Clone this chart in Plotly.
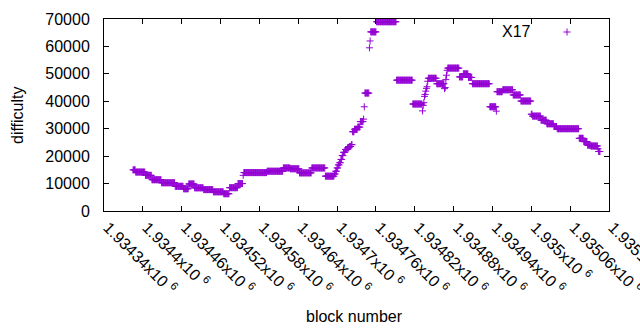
import plotly.graph_objects as go

# ---- data: runs of consecutive blocks sharing one difficulty value ----
run_start = [1934385, 1934389, 1934404, 1934414, 1934429, 1934450, 1934463, 1934471, 1934480, 1934494,
             1934509, 1934525, 1934534, 1934547, 1934555, 1934556, 1934592, 1934617, 1934628, 1934642,
             1934661, 1934682, 1934696, 1934698, 1934700, 1934702, 1934704, 1934706, 1934708, 1934710,
             1934713, 1934716, 1934719, 1934722, 1934724, 1934727, 1934732, 1934736, 1934741, 1934742,
             1934743, 1934750, 1934751, 1934752, 1934761, 1934792, 1934817, 1934832, 1934833, 1934834,
             1934835, 1934836, 1934837, 1934838, 1934839, 1934840, 1934841, 1934854, 1934866, 1934867,
             1934868, 1934869, 1934870, 1934871, 1934889, 1934895, 1934903, 1934909, 1934936, 1934946,
             1934947, 1934956, 1934972, 1934984, 1935000, 1935002, 1935015, 1935024, 1935035, 1935040,
             1935074, 1935081, 1935087, 1935092, 1935103, 1935104]
run_end = [1934388, 1934403, 1934413, 1934428, 1934449, 1934462, 1934470, 1934479, 1934493, 1934508,
           1934524, 1934533, 1934546, 1934554, 1934555, 1934591, 1934616, 1934627, 1934641, 1934660,
           1934681, 1934695, 1934697, 1934699, 1934701, 1934703, 1934705, 1934707, 1934709, 1934712,
           1934715, 1934718, 1934721, 1934723, 1934726, 1934731, 1934735, 1934740, 1934741, 1934742,
           1934749, 1934750, 1934751, 1934760, 1934791, 1934816, 1934831, 1934832, 1934833, 1934834,
           1934835, 1934836, 1934837, 1934838, 1934839, 1934840, 1934853, 1934865, 1934866, 1934867,
           1934868, 1934869, 1934870, 1934888, 1934894, 1934902, 1934908, 1934935, 1934945, 1934946,
           1934955, 1934971, 1934983, 1934999, 1935001, 1935014, 1935023, 1935034, 1935039, 1935073,
           1935080, 1935086, 1935091, 1935102, 1935103, 1935106]
run_diff = [15000, 14200, 13000, 11400, 10300, 9000, 8100, 9850, 8450, 7800,
            7000, 6300, 8500, 10000, 13000, 14000, 14500, 15700, 15400, 13900,
            15700, 12700, 13500, 14500, 15700, 16800, 17600, 18800, 20200, 21400,
            22400, 23000, 23500, 24200, 28900, 29800, 30600, 32600, 33500, 38000,
            43000, 59500, 62000, 65300, 69000, 47700, 39000, 36500, 38500, 39500,
            41800, 42500, 43700, 44700, 45300, 47300, 48400, 46400, 44600, 45000,
            47900, 49500, 51300, 52100, 48900, 50000, 48700, 46400, 38000, 36400,
            43500, 44200, 42300, 40100, 35300, 34600, 33100, 31800, 30800, 30000,
            26500, 25300, 24000, 23700, 22700, 21700]

x_tickvals = [1934340, 1934400, 1934460, 1934520, 1934580, 1934640, 1934700,
              1934760, 1934820, 1934880, 1934940, 1935000, 1935060, 1935120]
x_ticktext = ["1.93434x10 <sup>6</sup>", "1.9344x10 <sup>6</sup>", "1.93446x10 <sup>6</sup>",
              "1.93452x10 <sup>6</sup>", "1.93458x10 <sup>6</sup>", "1.93464x10 <sup>6</sup>",
              "1.9347x10 <sup>6</sup>", "1.93476x10 <sup>6</sup>", "1.93482x10 <sup>6</sup>",
              "1.93488x10 <sup>6</sup>", "1.93494x10 <sup>6</sup>", "1.935x10 <sup>6</sup>",
              "1.93506x10 <sup>6</sup>", "1.93512x10 <sup>6</sup>"]
y_tickvals = [0, 10000, 20000, 30000, 40000, 50000, 60000, 70000]
y_ticktext = ["0", "10000", "20000", "30000", "40000", "50000", "60000", "70000"]

series_name = "X17"

blocks, diffs = [], []
for s, e, d in zip(run_start, run_end, run_diff):
    for b in range(s, e + 1):
        blocks.append(b)
        diffs.append(d)

COLOR = "#9400D3"
FONT = "Liberation Sans, Arial, sans-serif"

fig = go.Figure()
fig.add_trace(go.Scatter(
    x=blocks, y=diffs, mode="markers", name=series_name, showlegend=False,
    marker=dict(symbol="cross-thin", size=5, color=COLOR,
                line=dict(color=COLOR, width=1)),
    cliponaxis=False,
))

L, R, T, B = 104, 31, 19, 119
W, H = 640, 330
pw, ph = W - L - R, H - T - B

def px(xp):
    return (xp - L) / pw

def py(yp):
    return (H - B - yp) / ph

fig.update_layout(
    width=W, height=H,
    margin=dict(l=L, r=R, t=T, b=B, autoexpand=False),
    paper_bgcolor="white", plot_bgcolor="white",
    font=dict(family=FONT, size=16, color="black"),
    xaxis=dict(range=[1934340, 1935120], tickmode="array", tickvals=x_tickvals,
               ticktext=x_ticktext, tickangle=45, ticks="inside", ticklen=5,
               tickcolor="black", showline=True, linecolor="black", linewidth=1,
               mirror="allticks", showgrid=False, zeroline=False, automargin=False,
               ticklabeloverflow="allow", ticklabelshift=4,
               tickfont=dict(family=FONT, size=16, color="black")),
    yaxis=dict(range=[0, 70000], tickmode="array", tickvals=y_tickvals,
               ticktext=y_ticktext, ticks="inside", ticklen=5, tickcolor="black",
               showline=True, linecolor="black", linewidth=1, mirror="allticks",
               showgrid=False, zeroline=False, automargin=False,
               ticklabelstandoff=10,
               tickfont=dict(family=FONT, size=16, color="black")),
    annotations=[
        dict(text="difficulty", xref="paper", yref="paper", x=px(17), y=py(115),
             showarrow=False, textangle=-90, xanchor="center", yanchor="middle",
             font=dict(family=FONT, size=16)),
        dict(text="block number", xref="paper", yref="paper", x=px(354), y=py(316),
             showarrow=False, xanchor="center", yanchor="middle",
             font=dict(family=FONT, size=16)),
        dict(text=series_name, xref="paper", yref="paper", x=px(533), y=py(31),
             showarrow=False, xanchor="right", yanchor="middle",
             font=dict(family=FONT, size=16)),
    ],
    shapes=[
        dict(type="line", xref="paper", yref="paper", xsizemode="pixel", ysizemode="pixel",
             xanchor=px(567), yanchor=py(32), x0=-3.5, x1=3.5, y0=0, y1=0,
             line=dict(color=COLOR, width=1)),
        dict(type="line", xref="paper", yref="paper", xsizemode="pixel", ysizemode="pixel",
             xanchor=px(567), yanchor=py(32), x0=0, x1=0, y0=-3.5, y1=3.5,
             line=dict(color=COLOR, width=1)),
    ],
)

fig.write_html("out.html", config={"displayModeBar": False},
               post_script="document.body.style.margin='0px';document.body.style.overflow='hidden';")
